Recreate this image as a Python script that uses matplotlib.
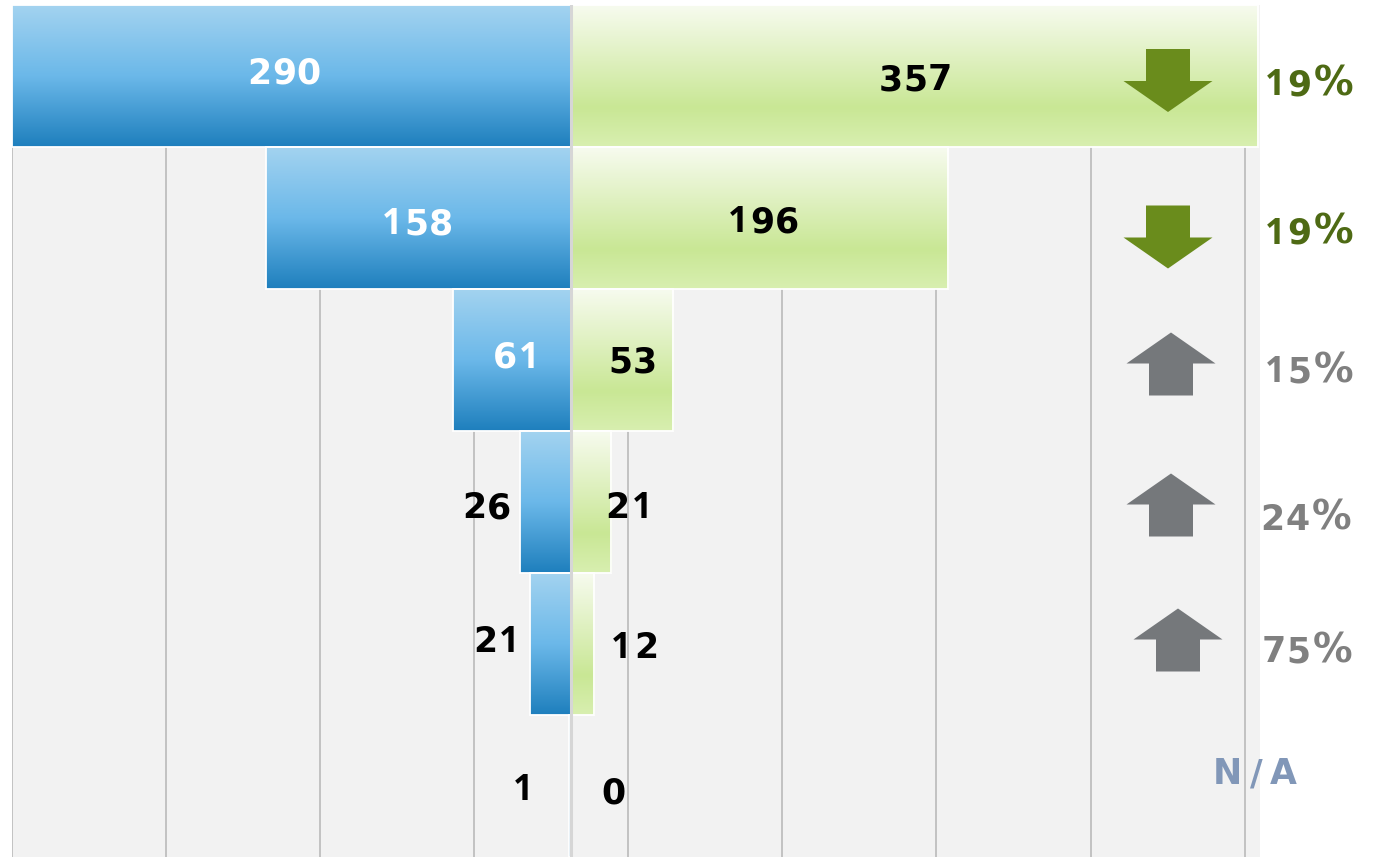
import numpy as np
import matplotlib
matplotlib.use("Agg")
import matplotlib.pyplot as plt
from matplotlib.colors import LinearSegmentedColormap
from matplotlib.patches import Polygon

# ---- data ----
rows = ["r1", "r2", "r3", "r4", "r5", "r6"]
left_values = [290, 158, 61, 26, 21, 1]
right_values = [357, 196, 53, 21, 12, 0]
change_labels = ["19%", "19%", "15%", "24%", "75%", "N/A"]
change_dir = ["down", "down", "up", "up", "up", None]

# ---- style ----
W, H = 1378, 857
DPI = 100
PT = 72 / DPI  # points per pixel
fig = plt.figure(figsize=(W / DPI, H / DPI), dpi=DPI)
ax_left_px, ax_right_px, ax_top_px = 12, 1260, 5
ax = fig.add_axes([ax_left_px / W, 0, (ax_right_px - ax_left_px) / W, (H - ax_top_px) / H])
ax.set_facecolor("#f2f2f2")
XMIN, XMAX = -290, 358
ax.set_xlim(XMIN, XMAX)
ax.set_ylim(len(rows) - 0.5, -0.5)
px_per_unit = (ax_right_px - ax_left_px) / (XMAX - XMIN)
row_px = (H - ax_top_px) / len(rows)

ax.set_xticks(np.arange(XMIN, XMAX + 1, 80))
ax.set_yticks([])
ax.tick_params(length=0, labelbottom=False)
ax.grid(axis="x", color="#bfbfbf", lw=1.3, zorder=0)
ax.set_axisbelow(True)
for s in ax.spines.values():
    s.set_visible(False)

blue_cmap = LinearSegmentedColormap.from_list(
    "b", [(0, "#a3d3f0"), (0.5, "#6bb8e9"), (1, "#1e7fbd")])
green_cmap = LinearSegmentedColormap.from_list(
    "g", [(0, "#f7fbef"), (0.72, "#c9e795"), (1, "#d8efb0")])
grad = np.linspace(0, 1, 256).reshape(-1, 1)

bh = 0.995
ypos = np.arange(len(rows))
for i, (lv, rv) in enumerate(zip(left_values, right_values)):
    if lv > 0:
        ax.imshow(grad, cmap=blue_cmap, aspect="auto", origin="upper",
                  extent=(-lv, 0, i + bh / 2, i - bh / 2), zorder=2, interpolation="bilinear")
    if rv > 0:
        ax.imshow(grad, cmap=green_cmap, aspect="auto", origin="upper",
                  extent=(0, rv, i + bh / 2, i - bh / 2), zorder=2, interpolation="bilinear")
ax.barh(ypos, [-v for v in left_values], height=bh, facecolor="none",
        edgecolor="white", lw=1.3, zorder=3)
ax.barh(ypos, right_values, height=bh, facecolor="none",
        edgecolor="white", lw=1.3, zorder=3)
ax.axvline(0, color="#d6d6d6", lw=2.2, zorder=4)


def spaced_text(s, xy, xycoords, dx_px, dy_px, adv, fam, size, color, cap_px, zorder=6):
    """Draw text character by character, centred on (dx_px, dy_px) pixels from xy."""
    widths = [adv(c) for c in s]
    x = dx_px - sum(widths) / 2
    for c, w in zip(s, widths):
        ax.annotate(c, xy, xycoords=xycoords,
                    xytext=((x + w / 2) * PT, -(dy_px + cap_px / 2) * PT),
                    textcoords="offset points", ha="center", va="baseline",
                    fontsize=size(c), fontweight="bold", family=fam(c), color=color,
                    zorder=zorder, annotation_clip=False)
        x += w


val_adv = lambda c: 24.5
val_fam = lambda c: "Open Sans" if c == "1" else "DejaVu Sans"
val_size = lambda c: 25.5 if c == "1" else 25

# label offsets (pixels, y downwards): inside labels relative to bar centre, outside relative to bar end
left_off = [(-7, -5), (-2, 4), (5, -5), (-34, 4), (-33, -4), (-46, 2)]
right_off = [(1, 2), (3, 2), (11, 0), (19, 4), (40, 2), (43, 5)]
for i, (lv, rv) in enumerate(zip(left_values, right_values)):
    inside = lv >= 50
    x = -lv / 2 if inside else -lv
    dx, dy = left_off[i]
    spaced_text(str(lv), (x, i), "data", dx, dy, val_adv, val_fam, val_size,
                "white" if inside else "black", 25)
    inside = rv >= 50
    x = rv / 2 if inside else rv
    dx, dy = right_off[i]
    spaced_text(str(rv), (x, i), "data", dx, dy, val_adv, val_fam, val_size, "black", 25)

# arrows
arrow_green, arrow_gray = "#6a8c1c", "#75787b"
arrow_cx_px = [1168, 1168, 1171, 1171, 1178]
arrow_dy_px = [4.5, 19, 4, 3, -4]
head_w, shaft_w = 89 / px_per_unit, 44 / px_per_unit
head_h, shaft_h = 31 / row_px, 32 / row_px
for i, d in enumerate(change_dir):
    if d is None:
        continue
    cx = (arrow_cx_px[i] - (ax_left_px - XMIN * px_per_unit)) / px_per_unit
    cy = i + arrow_dy_px[i] / row_px
    top = cy - (head_h + shaft_h) / 2
    bot = cy + (head_h + shaft_h) / 2
    if d == "down":
        pts = [(cx - shaft_w / 2, top), (cx + shaft_w / 2, top), (cx + shaft_w / 2, top + shaft_h),
               (cx + head_w / 2, top + shaft_h), (cx, bot), (cx - head_w / 2, top + shaft_h),
               (cx - shaft_w / 2, top + shaft_h)]
        col = arrow_green
    else:
        pts = [(cx, top), (cx + head_w / 2, top + head_h), (cx + shaft_w / 2, top + head_h),
               (cx + shaft_w / 2, bot), (cx - shaft_w / 2, bot), (cx - shaft_w / 2, top + head_h),
               (cx - head_w / 2, top + head_h)]
        col = arrow_gray
    ax.add_patch(Polygon(pts, closed=True, facecolor=col, edgecolor="none", zorder=5))

# change percentages
pct_colors = {"down": "#4e6a14", "up": "#808080", None: "#8197b8"}
pct_cx_px = [1309, 1309, 1309, 1307, 1308, 1254]
pct_dy_px = [6.5, 13, 10, 15, 6, -14]
pct_adv = {"%": 44, "N": 28, "/": 30, "A": 24}
pct_fam = lambda c: "Open Sans" if c == "1" else "DejaVu Sans"
pct_size = lambda c: 28.5 if c == "%" else (25.5 if c == "1" else 25)
for i, (lab, d) in enumerate(zip(change_labels, change_dir)):
    cy = ax_top_px + row_px * (i + 0.5)
    spaced_text(lab, (0, H - cy), "figure pixels", pct_cx_px[i], pct_dy_px[i],
                lambda c: pct_adv.get(c, 24.5), pct_fam, pct_size, pct_colors[d], 25)

fig.savefig("out.png", dpi=DPI, facecolor="white")
